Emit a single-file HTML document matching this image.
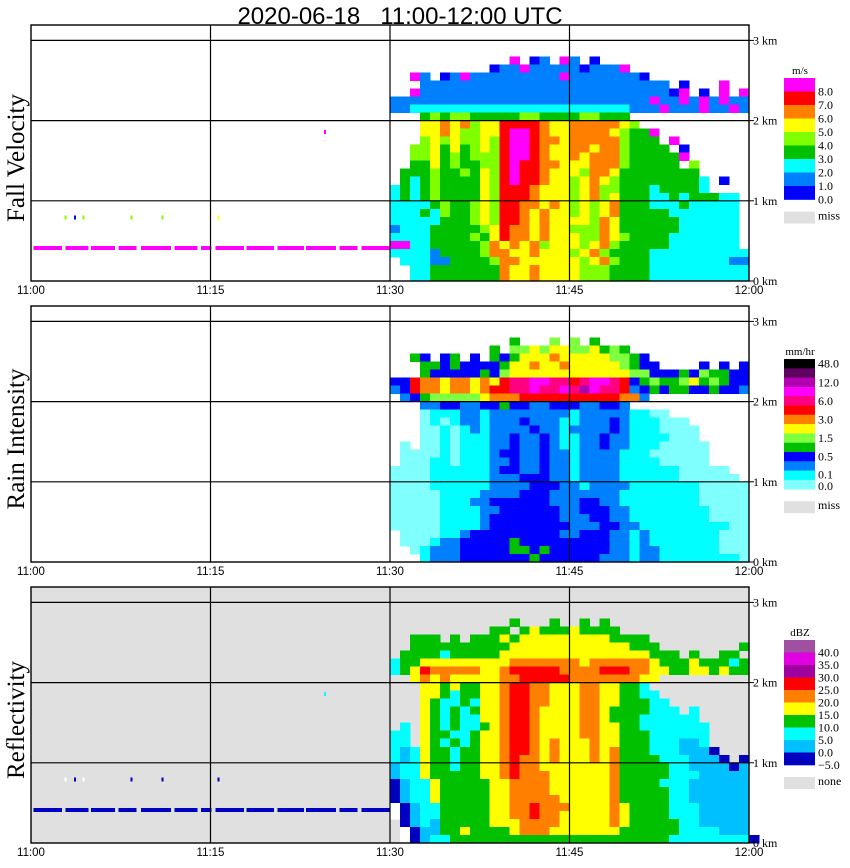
<!DOCTYPE html>
<html><head><meta charset="utf-8">
<style>
html,body{margin:0;padding:0;background:#fff;}
svg{display:block;}
.t{font-family:"Liberation Sans",sans-serif;}
.s{font-family:"Liberation Serif",serif;}
</style></head>
<body>
<svg id="chart" width="850" height="868" viewBox="0 0 850 868" xmlns="http://www.w3.org/2000/svg">
<text class="t" x="400" y="24" font-size="24" text-anchor="middle" style="white-space:pre" xml:space="preserve">2020-06-18   11:00-12:00 UTC</text>
</svg>
<script>
// ---------- data ----------
const timeTicks = ["11:00","11:15","11:30","11:45","12:00"];
const heightTicks = ["0 km","1 km","2 km","3 km"];
const gridStartMin = 30, gridEndMin = 60, gridCols = 36, gridRows = 30, gridTopKm = 3.0, gridStepKm = 0.1;

const fvColors = {b:"#0000ff",l:"#0080ff",c:"#00ffff",g:"#00c000",y:"#80ff00",Y:"#ffff00",o:"#ff8000",r:"#ff0000",m:"#ff00ff"};
const fvLegendColors = ["#ff00ff","#ff0000","#ff8000","#ffff00","#80ff00","#00c000","#00ffff","#0080ff","#0000ff"];
const fvLegendLabels = ["8.0","7.0","6.0","5.0","4.0","3.0","2.0","1.0","0.0"];
const fvGrid = [
"....................................",
"....................................",
"............m.bl.ml.b...............",
"..........bllmlllllblllm............",
"..ml.blmlllllllllmlllllllb..........",
"...lllllllllllllllllllllllll.b...m..",
"..mlllllllllllllllllllllllllbm.b.m.m",
"llllllllllllllllllllllllllmllmlmlmll",
"llcccccccccccccccccccccclllmlllmllml",
"...gygyygggggyyggggyyggg............",
"...YYoYoyYYrrrroYYoooooYy...........",
"...YYoYyyYYrmmroYYooooYyggm.........",
"...yYyYyyYyrmmrooYoooooyggg.m.......",
"..yyYgYgyYyrmmroYYooYooygggg.b......",
"..yyYgygyyyrmmroYYoYoooygggggm......",
"..ggYgyggyyrmrrooYYYoooyggggg.y.....",
".gggyggygYyrmrroYYYyooYgggggggg.....",
".gcgyggggYyrmrroYYyYoYyggggggggc.b..",
"cgcgyggggYyrrroYYYyYoyygggcggggc....",
"cgcgyggggYyrrroYYYyYoyYgggccgcgggcc.",
"ccccgyggyYyrrooYoYyYyYogggcccgccccc.",
"cccgcyggyYyrroYoYYyYyYogggggccccccc.",
"cccccgggyYyrroYoYYYYyoYggggggcccccc.",
"lcccgggggyYrooYoYYyyyoYggggggcccccc.",
"ccccggggygYrooYoYYYyyoYyggggccccccc.",
"mmccgggggyoYoYoyYYYyYoygggggccccccc.",
"cccclggggyooYYoYYYyYoyggggcccccccccc",
".cccllggggyooYYYYYYyYoygggccccccccll",
"..ccgggggggoYYoYYYYyyyggggcccccccccc",
"..ccgggggggoYYoYYYYyyyggggcccccccccc"];

const riColors = {k:"#000000",d:"#600060",v:"#b000b0",m:"#ff00ff",p:"#ff0080",r:"#ff0000",o:"#ff8000",Y:"#ffff00",y:"#80ff40",g:"#00c000",b:"#0000ff",l:"#0080ff",c:"#00ffff",a:"#80ffff"};
const riLegendColors = ["#000000","#600060","#b000b0","#ff00ff","#ff0080","#ff0000","#ff8000","#ffff00","#80ff40","#00c000","#0000ff","#0080ff","#00ffff","#80ffff"];
const riLegendLabels = ["48.0","12.0","6.0","3.0","1.5","0.5","0.1","0.0"];
const riGrid = [
"....................................",
"....................................",
"............g...y.y.g...............",
"..........g.yyYyYYyyYgyg............",
"..gb.bg.b.gbgYYYoYYYYYyygb..........",
"...ggbgbbbbgYYoYYoYYYYYygbb....b.b.b",
"...gbbbbbgbyYYYYYYYYYYYYyybbbgbyggbb",
"bbrooYooYoYrppmmpprpmmprbgyggyYgygbb",
"lbrooYooYorrppmppmpvmpprlbgbggbbgbbl",
".lbgyyyyyYooorrrrrrrrrrool..........",
"...llbbllbbgbbllbbbllbbl............",
"...acccllcllllllllclllllccaa........",
"...acacllclllblllcclllblcccaaa......",
"...aacaclcllllbllcllllblcccaaaa.....",
"...aacacccllbllblccllbllccccaaa.....",
".a.aacacccllbllblccllbllcccaaaaa....",
".aaaacaccclbbllbllcllllcccaaaaaa....",
".aaaccacccllbllbllcllllccccaaaaa....",
"aaaacccccclbbllbllcllllccccccaaaaa..",
"aaaacccccclllbbbllcllllccccccaaaaaa.",
"aaaaccccccllllbbbllcllllcccccccaaaaa",
"aaaaaccccllllbbblllllllccccccccaaaaa",
"aaaaacccllbbbbbblllbbllccccccccaaaaa",
"aaaaaccccllbbbbbbllbbbllccccccccaaaa",
"aaaaacccclbbbbbbblllbbllccccccccaaaa",
"aaaaacccclbbbbbbbblllbbllcccccccccaa",
".aaaacclbbbbbbbbbllbbbllclcccccccaaa",
".aaacllbbbbbgbbbbbbbbbllclcccccccaaa",
"..aclllbbbbbggbgbbbbbbllcllccccccaaa",
"...clllbbbbbbbgbbbbbblllcllcccccccca"];

const refColors = {P:"#a050a0",M:"#e000e0",V:"#a000a0",r:"#ff0000",o:"#ff8000",Y:"#ffff00",g:"#00c000",c:"#00ffff",s:"#00c0ff",b:"#0000c0",w:"#ffffff"};
const refLegendColors = ["#a050a0","#e000e0","#a000a0","#ff0000","#ff8000","#ffff00","#00c000","#00ffff","#00c0ff","#0000c0"];
const refLegendLabels = ["40.0","35.0","30.0","25.0","20.0","15.0","10.0","5.0","0.0","\u22125.0"];
const refGrid = [
"....................................",
"....................................",
"............g...g..g.g..............",
"..........gg.gYgggYgggg.............",
"..ggg.g.gggYgYYYYYYYYYgggg..........",
"..ggggggggggYYYYYYYYYYYYggg........g",
".ggggcgggggYYYYYYYYYYYYYYYggg.g..gg.",
"cggYYYYYYYYYoooooooYooooooYgggYgggcg",
"cgYroooooYYorrrrroooorrrooYYggYYgYgg",
"..YoYoYYYYYoorrrrroooooooYY.........",
"...YYgYggYYorrooYYYooYYggc..........",
"...YYgcggYYorrooYYYooYYggcc.........",
"...YgccgcYYorrooYYYooYYgggcc........",
"...YgcgcgYYorroYYYYooYggggccc.c.....",
"...YgcgccYYorroYYYYooYgggcccccc.....",
".c.YgcgccgYorroYYYYooYYggccccccc....",
"cc.YggccgYYorroYYYYooYYgggcccccc....",
"cc.YgcgcgYYorroYoYYYoYYgggcccssc....",
"cscYggcggYYorroYoYYYoYogggcccsssb...",
"cscYggcggYYorooYoYYYoYoggggcccsssb.b",
"sccYggcggYYorooYYYYYYYogggggccssssbs",
"sccYgggggYYoroooYYYYYYogggggcccsssss",
"bsccYgggggYYooooYYYYYYoggggcccssssss",
"bsccYgggggYYooooYYYYYYogggggccssssss",
"bsccYgggggYYoooooYYYYYogggggccssssss",
"wbsccgggggYYooroooYYYYoYggggcccsssss",
"wbsccgggggYYoorooYYYYYoYggggcccsssss",
".bscsgggggYYYooooYYYYYoYgggggccsssss",
".wbssggYggggYoooYYYYYYYggggggccccsss",
".wbsccggggggggggggggggggggggccccccccb"];

// surface clutter line before 11:30 (minutes start/end), at 0.4 km
const clutterStart = [0.2, 2.9, 5.0, 7.3, 9.2, 12.0, 14.2, 15.4, 18.0, 20.6, 23.0, 25.8, 27.6];
const clutterEnd   = [2.6, 4.8, 7.0, 8.8, 11.7, 13.9, 15.1, 17.8, 20.3, 22.8, 25.5, 27.3, 30.0];
const clutterKm = 0.4;
const dotMin = [2.8, 3.6, 4.3, 8.3, 10.9, 15.6, 24.5];
const dotKm = [0.79, 0.79, 0.79, 0.79, 0.79, 0.79, 1.86];

// ---------- layout ----------
const X0 = 31, X1 = 749;
const panels = [
  {key:"fall-velocity", title:"Fall Velocity", top:25, zero:281, bg:"#ffffff", grid:fvGrid, colors:fvColors,
   legColors:fvLegendColors, legLabels:fvLegendLabels, unit:"m/s", legTop:78, boxH:13.5, missLabel:"miss", labelMode:"bottom",
   clutter:"#ff00ff", dots:["#80ff00","#0000ff","#80ff00","#80ff00","#80ff00","#ffff00","#ff00ff"]},
  {key:"rain-intensity", title:"Rain Intensity", top:306, zero:562, bg:"#ffffff", grid:riGrid, colors:riColors,
   legColors:riLegendColors, legLabels:riLegendLabels, unit:"mm/hr", legTop:359, boxH:9.3, missLabel:"miss", labelMode:"ri",
   clutter:null, dots:null},
  {key:"reflectivity", title:"Reflectivity", top:587, zero:843, bg:"#e0e0e0", grid:refGrid, colors:refColors,
   legColors:refLegendColors, legLabels:refLegendLabels, unit:"dBZ", legTop:640, boxH:12.5, missLabel:"none", labelMode:"bottom",
   clutter:"#0000c0", dots:["#ffffff","#0000c0","#ffffff","#0000c0","#0000c0","#0000c0","#00ffff"]}
];
const svg = document.getElementById("chart");
const NS = "http://www.w3.org/2000/svg";
function mk(tag, attrs, parent){ const e=document.createElementNS(NS,tag); for(const k in attrs) e.setAttribute(k,attrs[k]); (parent||svg).appendChild(e); return e; }
function xScale(min){ return X0 + (X1-X0)*min/60; }

panels.forEach(p=>{
  const yScale = km => p.zero - km*80.2;
  const g = mk("g",{});
  
  
  const bg = mk("rect",{x:X0,y:p.top,width:X1-X0,height:p.zero-p.top,fill:p.bg},g);
  
  
  const cg = mk("g",{"shape-rendering":"crispEdges"},g);
  
  
  const cw = (gridEndMin-gridStartMin)/gridCols;
  p.grid.forEach((row,r)=>{
    const kmTop = gridTopKm - r*gridStepKm;
    for(let c=0;c<row.length;c++){
      const ch=row[c]; if(ch==='.'||!p.colors[ch]) continue;
      const xa=xScale(gridStartMin+c*cw), xb=xScale(gridStartMin+(c+1)*cw);
      const ya=yScale(kmTop), yb=yScale(kmTop-gridStepKm);
      const rc = mk("rect",{x:xa.toFixed(1),y:ya.toFixed(1),width:(xb-xa+0.4).toFixed(1),height:(yb-ya+0.4).toFixed(1),fill:p.colors[ch]},cg);
      
      
    }
  });
  if(p.clutter){
    clutterStart.forEach((s,i)=>{
      const rc = mk("rect",{x:xScale(s),y:yScale(clutterKm)-3,width:xScale(clutterEnd[i])-xScale(s),height:4,fill:p.clutter},cg);
      
      
    });
    dotMin.forEach((m,i)=>{
      const rc = mk("rect",{x:xScale(m),y:yScale(dotKm[i])-2,width:2,height:4,fill:p.dots[i]},cg);
      
      
    });
  }
  for(let k=1;k<=3;k++){
    const l = mk("line",{x1:X0,x2:X1,y1:yScale(k),y2:yScale(k),stroke:"#000","stroke-width":1.2},g);
    
    
  }
  for(let k=1;k<=3;k++){
    const l = mk("line",{x1:xScale(k*15),x2:xScale(k*15),y1:p.top,y2:p.zero,stroke:"#000","stroke-width":1.2},g);
    
    
  }
  const fr = mk("rect",{x:X0,y:p.top,width:X1-X0,height:p.zero-p.top,fill:"none",stroke:"#000","stroke-width":1.4},g);
  
  
  heightTicks.forEach((t,k)=>{
    const tk = mk("line",{x1:X1,x2:X1+5,y1:yScale(k),y2:yScale(k),stroke:"#000"},g);
    
    
    const tx = mk("text",{x:X1+4,y:yScale(k)+4,"font-size":12,class:"s"},g);
    tx.textContent=t;
    
    
  });
  timeTicks.forEach((t,k)=>{
    const tx = mk("text",{x:xScale(k*15),y:p.zero+13,"font-size":11.5,"text-anchor":"middle",class:"t"},g);
    tx.textContent=t;
    
    
  });
  const cy=(p.top+p.zero)/2+5;
  const tt = mk("text",{x:24,y:cy,"font-size":25,"text-anchor":"middle",class:"s",transform:`rotate(-90 24 ${cy})`},g);
  tt.textContent=p.title;
  
  
  const lg = mk("g",{},g);
  
  
  const ut = mk("text",{x:800,y:p.legTop-4,"font-size":11,"text-anchor":"middle",class:"s"},lg);
  ut.textContent=p.unit;
  
  
  p.legColors.forEach((col,i)=>{
    const r = mk("rect",{x:784,y:p.legTop+i*p.boxH,width:31,height:p.boxH+0.3,fill:col},lg);
    
    
  });
  const legBottom = p.legTop + p.legColors.length*p.boxH;
  p.legLabels.forEach((lab,i)=>{
    let y;
    if(p.labelMode==="bottom") y = p.legTop+(i+1)*p.boxH+4;
    else { const pos=[0.5,2.5,4.5,6.5,8.5,10.5,12.5,14]; y = p.legTop+pos[i]*p.boxH+ (i===7?1:4); if(i===6) y-=1; }
    const tx = mk("text",{x:818,y:y,"font-size":12,class:"s"},lg);
    tx.textContent=lab;
    
    
  });
  const mb = mk("rect",{x:784,y:legBottom+12,width:31,height:12,fill:"#e0e0e0"},lg);
  
  
  const mt = mk("text",{x:818,y:legBottom+20,"font-size":12,class:"s"},lg);
  mt.textContent=p.missLabel;
  
  
});
</script>
</body></html>
